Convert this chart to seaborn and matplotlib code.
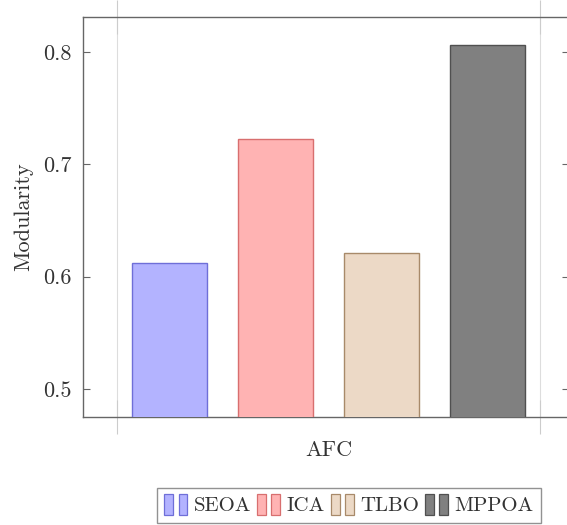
import matplotlib
matplotlib.use("Agg")
import matplotlib.pyplot as plt
import seaborn as sns
import pandas as pd
from matplotlib.legend_handler import HandlerBase
from matplotlib.patches import Rectangle, Patch

# ---- data ----
group = ["AFC"]
methods = ["SEOA", "ICA", "TLBO", "MPPOA"]
modularity = [0.612, 0.722, 0.621, 0.806]
y_ticks = [0.5, 0.6, 0.7, 0.8]
y_tick_labels = ["0.5", "0.6", "0.7", "0.8"]

fills = ["#b3b3ff", "#ffb3b3", "#ecd9c6", "#808080"]
edges = ["#6f6fd8", "#d86f6f", "#a88a6a", "#505050"]

df = pd.DataFrame({"group": group * len(methods), "method": methods, "value": modularity})

sns.set_style("white")
plt.rcParams["font.family"] = ["cmr10", "DejaVu Serif"]
plt.rcParams["axes.formatter.use_mathtext"] = True
txt = "#333333"
fs = 16

fig = plt.figure(figsize=(5.67, 5.25), dpi=100)
ax = fig.add_axes([83 / 567, 1 - 417 / 525, (569 - 83) / 567, 400 / 525])

sns.barplot(data=df, x="group", y="value", hue="method", hue_order=methods,
            palette=fills, width=0.8, gap=0.292, ax=ax, legend=False,
            saturation=1, linewidth=1.0)

for cont, ec in zip(ax.containers, edges):
    for p in cont.patches:
        p.set_edgecolor(ec)
        p.set_zorder(3)

ax.set_xlim(-0.464, 0.453)
ax.set_ylim(0.475, 0.831)
ax.set_yticks(y_ticks)
ax.set_yticklabels(y_tick_labels, color=txt, fontsize=fs)
ax.tick_params(axis="y", direction="in", length=5, color="#666666", left=True, right=True, pad=8)

ax.set_xticks([0])
ax.set_xticklabels(["AFC"], color=txt, fontsize=fs)
ax.tick_params(axis="x", which="major", length=0, pad=17)
ax.set_xticks([-0.4, 0.398], minor=True)
ax.tick_params(axis="x", which="minor", direction="inout", length=24, color="#cccccc",
               width=0.8, bottom=True, top=True)
for xv in [-0.4, 0.398]:
    ax.axvline(xv, color="#dddddd", lw=0.8, zorder=0)

for s in ax.spines.values():
    s.set_color("#666666")
    s.set_linewidth(1.0)

ax.set_xlabel("")
ax.set_ylabel("Modularity", color=txt, fontsize=fs)
ax.yaxis.set_label_coords(-0.103, 0.5)


class TwoBar(HandlerBase):
    def create_artists(self, legend, orig_handle, xdescent, ydescent, width, height, fontsize, trans):
        fc = orig_handle.get_facecolor()
        ec = orig_handle.get_edgecolor()
        w = width * 0.38
        r1 = Rectangle((-xdescent, -ydescent - 0.1 * height), w, height * 1.2,
                       facecolor=fc, edgecolor=ec, lw=0.9, transform=trans)
        r2 = Rectangle((-xdescent + width - w, -ydescent - 0.1 * height), w, height * 1.2,
                       facecolor=fc, edgecolor=ec, lw=0.9, transform=trans)
        return [r1, r2]


handles = [Patch(facecolor=f, edgecolor=e) for f, e in zip(fills, edges)]
leg = fig.legend(handles, methods, loc="center", bbox_to_anchor=(349 / 567, 1 - 505.5 / 525),
                 ncol=4, frameon=True, fancybox=False, edgecolor="#777777",
                 fontsize=15, handlelength=1.1, handleheight=0.9, handletextpad=0.3,
                 columnspacing=0.3, borderpad=0.35, borderaxespad=0,
                 handler_map={Patch: TwoBar()})
for t in leg.get_texts():
    t.set_color(txt)
leg.get_frame().set_linewidth(1.0)

fig.savefig("out.png", dpi=100)
